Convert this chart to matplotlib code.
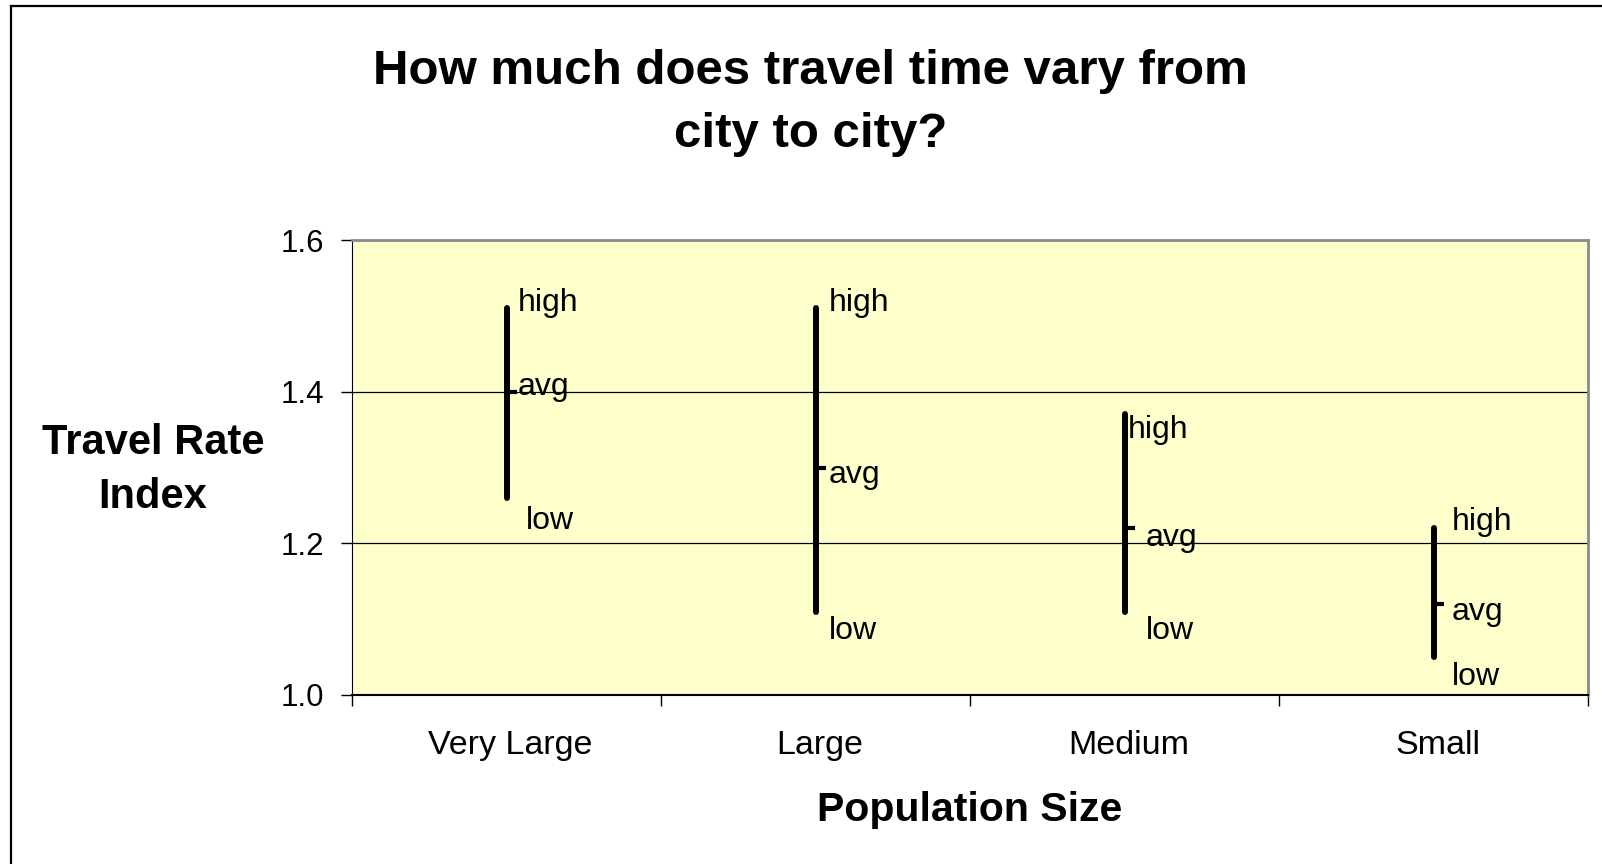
import matplotlib.pyplot as plt
from matplotlib.lines import Line2D
from matplotlib.transforms import ScaledTranslation

plt.rcParams['font.family'] = ['Liberation Sans', 'DejaVu Sans']

# data
categories = ['Very Large', 'Large', 'Medium', 'Small']
high = [1.51, 1.51, 1.37, 1.22]
avg = [1.40, 1.30, 1.22, 1.12]
low = [1.26, 1.11, 1.11, 1.05]
y_ticks = [1.0, 1.2, 1.4, 1.6]

# label offsets in pixels (dx, dy) for high / avg / low, as Excel placed them
off_high = [(11, 5), (13, 5), (3, -16), (18, 6)]
off_avg = [(11, 5), (13, -8), (21, -10), (18, -8)]
off_low = [(19, -23), (13, -19), (21, -19), (18, -20)]

fig = plt.figure(figsize=(16.02, 8.64), dpi=100)
ax = fig.add_axes([352/1602, 1-695/864, (1588-352)/1602, (695-240)/864])
ax.set_facecolor('#FFFFCC')

x = list(range(len(categories)))
ax.vlines(x, low, high, color='black', lw=4.3, capstyle='round', zorder=3)
ax.plot(x, avg, ls='none', marker=1, ms=7.5, mew=3, color='black', zorder=3)

def put(vals, offs, txt):
    for i, v in enumerate(vals):
        ax.annotate(txt, (x[i], v), xytext=offs[i], textcoords='offset pixels',
                    ha='left', va='center', fontsize=23, zorder=4)

put(high, off_high, 'high')
put(avg, off_avg, 'avg')
put(low, off_low, 'low')

ax.set_xlim(-0.5, 3.5)
ax.set_ylim(1.0, 1.6)
ax.set_yticks(y_ticks)
ax.set_yticklabels(['%.1f' % t for t in y_ticks])
ax.set_xticks([i - 0.5 for i in range(len(categories) + 1)])
ax.set_xticklabels([])
ax.set_xticks(x, minor=True)
ax.set_xticklabels(categories, minor=True)
ax.tick_params(axis='x', which='major', direction='out', length=8, width=1)
ax.tick_params(axis='x', which='minor', length=0, pad=25, labelsize=24.5)
ax.tick_params(axis='y', direction='out', length=8, width=1, pad=12, labelsize=22.5)
ax.yaxis.grid(True, color='black', lw=0.9)
ax.set_axisbelow(True)
shift = ScaledTranslation(4/100, 0, fig.dpi_scale_trans)
for lab in ax.get_xticklabels(minor=True):
    lab.set_transform(lab.get_transform() + shift)

ax.spines['left'].set_color('black')
ax.spines['bottom'].set_color('black')
ax.spines['bottom'].set_linewidth(1.5)
ax.spines['top'].set_color('#8a8a8a')
ax.spines['right'].set_color('#8a8a8a')
ax.spines['top'].set_linewidth(2)
ax.spines['right'].set_linewidth(2)

fig.text(0.506, 1-103/864, 'How much does travel time vary from\ncity to city?',
         ha='center', va='center', fontsize=35.5, fontweight='bold', linespacing=1.5)
fig.text(153/1602, 1-470/864, 'Travel Rate\nIndex', ha='center', va='center',
         fontsize=30, fontweight='bold', linespacing=1.45)
fig.text(970/1602, 1-810/864, 'Population Size', ha='center', va='center',
         fontsize=29.5, fontweight='bold')

# outer chart border (runs off the right and bottom edges)
fig.add_artist(Line2D([11/1602, 11/1602], [-0.1, 1-6/864], color='black', lw=1.6))
fig.add_artist(Line2D([11/1602, 1.1], [1-6/864, 1-6/864], color='black', lw=1.6))

fig.savefig('out.png', dpi=100)
